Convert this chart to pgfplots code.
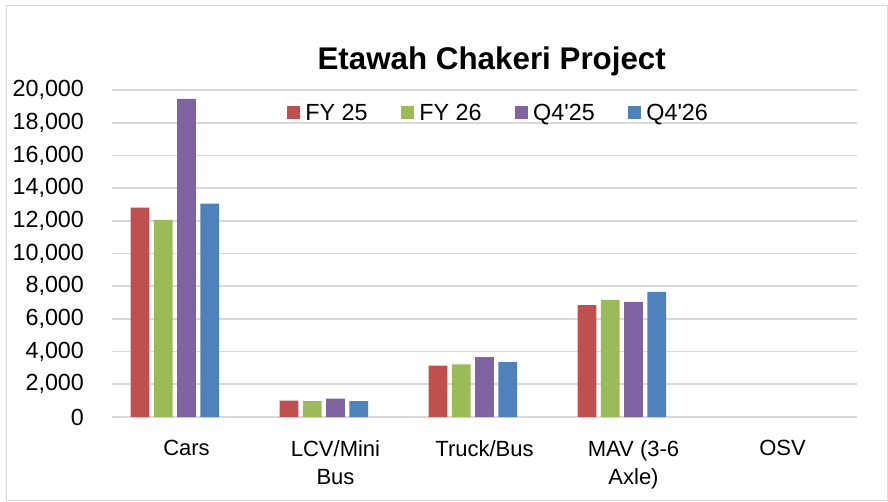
\documentclass[border=0pt]{standalone}
\usepackage{pgfplots}
\pgfplotsset{compat=1.18}
\usepackage{fontspec}
\setmainfont{Liberation Sans}
\definecolor{cRed}{HTML}{C0504D}
\definecolor{cGreen}{HTML}{9BBB59}
\definecolor{cPurple}{HTML}{8064A2}
\definecolor{cBlue}{HTML}{4F81BD}
\definecolor{cGrid}{HTML}{D9D9D9}
\newcommand{\lblfont}{\fontsize{16.5}{20.8}\selectfont}
\newcommand{\tickfont}{\fontsize{17.5}{21}\selectfont}
\begin{document}
\begin{tikzpicture}
\useasboundingbox (0,0) rectangle (666pt,375.75pt);
\draw[cGrid, line width=0.9pt] (4.8pt,0.6pt) rectangle (665.4pt,371.4pt);
\node[font=\fontsize{23.5}{27}\selectfont\bfseries] at (368.8pt,330pt) {Etawah Chakeri Project};
\begin{axis}[
  at={(84pt,63pt)}, anchor=south west,
  scale only axis, width=558.75pt, height=245.25pt,
  ybar, bar width=0.125,
  xmin=-0.5, xmax=4.5, ymin=0, ymax=20000,
  ytick distance=2000,
  xtick={0,1,2,3,4},
  xticklabels={Cars, {LCV/Mini\\Bus}, Truck/Bus, {MAV (3-6\\Axle)}, OSV},
  axis line style={draw=none},
  ymajorgrids, grid style={cGrid, line width=1.3pt},
  major tick length=0pt,
  /pgf/number format/assume math mode=true,
  /pgf/number format/1000 sep={,},
  scaled y ticks=false,
  yticklabel style={font=\tickfont, xshift=-17.5pt},
  xticklabel style={font=\lblfont, align=center, yshift=-14pt},
  legend columns=4,
  legend style={draw=none, fill=none, font=\tickfont, at={(0.521,0.93)}, anchor=center,
    /tikz/every even column/.append style={column sep=21pt},
    nodes={inner xsep=4pt}},
  legend cell align=left,
]
\addplot[fill=cRed, draw=none, bar shift=-0.3125,
  legend image code/.code={\fill[cRed] (0pt,-4.875pt) rectangle (9.75pt,4.875pt);}]
  coordinates {(0,12800) (1,1000) (2,3140) (3,6840)};
\addplot[fill=cGreen, draw=none, bar shift=-0.156,
  legend image code/.code={\fill[cGreen] (0pt,-4.875pt) rectangle (9.75pt,4.875pt);}]
  coordinates {(0,12050) (1,970) (2,3220) (3,7160)};
\addplot[fill=cPurple, draw=none, bar shift=0.0,
  legend image code/.code={\fill[cPurple] (0pt,-4.875pt) rectangle (9.75pt,4.875pt);}]
  coordinates {(0,19450) (1,1130) (2,3670) (3,7040)};
\addplot[fill=cBlue, draw=none, bar shift=0.156,
  legend image code/.code={\fill[cBlue] (0pt,-4.875pt) rectangle (9.75pt,4.875pt);}]
  coordinates {(0,13050) (1,970) (2,3360) (3,7650)};
\legend{FY 25, FY 26, Q4\textquotesingle25, Q4\textquotesingle26}
\end{axis}
\end{tikzpicture}
\end{document}
